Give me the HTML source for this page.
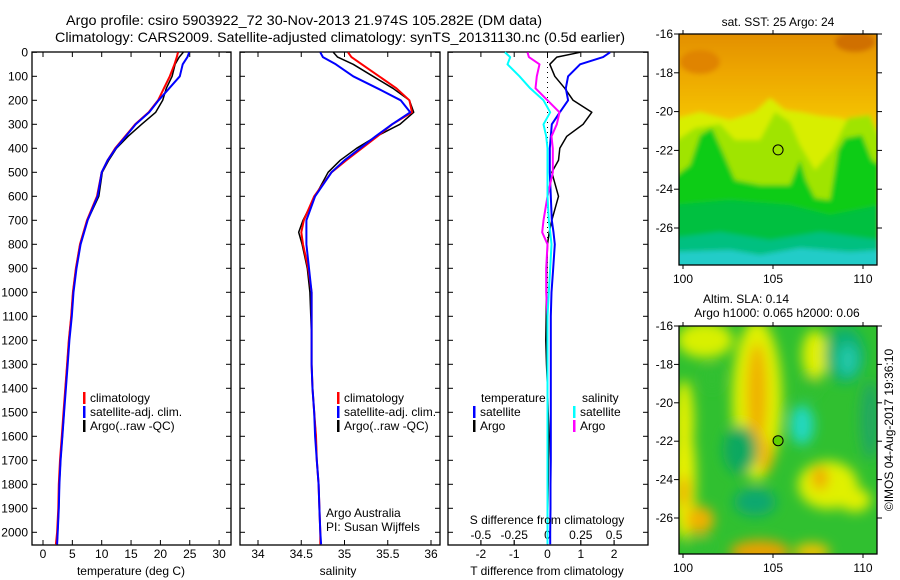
<!DOCTYPE html>
<html><head><meta charset="utf-8">
<style>
html,body{margin:0;padding:0;background:#fff;}
svg{display:block;font-family:"Liberation Sans",Arial,sans-serif;}
text{font-size:12px;fill:#000;}
</style></head>
<body>
<svg id="chart" width="900" height="580" viewBox="0 0 900 580">
<defs>
<filter id="blur1" x="-5%" y="-5%" width="110%" height="110%"><feGaussianBlur stdDeviation="2.5"/></filter>
<filter id="blur2" x="-20%" y="-20%" width="140%" height="140%"><feGaussianBlur stdDeviation="6"/></filter>
<clipPath id="clipM1"><rect x="679" y="34" width="198" height="231"/></clipPath>
<clipPath id="clipM2"><rect x="679" y="326" width="198" height="228"/></clipPath>
<linearGradient id="sstGrad" x1="0" y1="0" x2="0" y2="1">
<stop offset="0" stop-color="#e08a00"/><stop offset="0.2" stop-color="#eea800"/><stop offset="0.38" stop-color="#f4c400"/><stop offset="0.5" stop-color="#e8e000"/><stop offset="1" stop-color="#e8e000"/>
</linearGradient>
</defs>
<text x="304" y="25" text-anchor="middle" textLength="476" lengthAdjust="spacingAndGlyphs" style="font-size:14px">Argo profile: csiro 5903922_72 30-Nov-2013 21.974S 105.282E (DM data)</text>
<text x="340" y="42" text-anchor="middle" textLength="570" lengthAdjust="spacingAndGlyphs" style="font-size:14px">Climatology: CARS2009. Satellite-adjusted climatology: synTS_20131130.nc (0.5d earlier)</text>
<g id="panels"></g>
<g id="maps"></g>
</svg>
<script>
// depth levels (m) shared by profiles
const depths = [0,20,50,100,150,200,250,300,350,400,450,500,600,700,750,800,900,1000,1100,1200,1300,1400,1500,1600,1700,1800,1900,2000,2050];
// temperature (deg C)
const tempClim = [23.0,22.8,22.4,21.6,20.6,19.6,18.0,15.7,14.0,12.3,11.0,10.0,9.2,7.5,6.9,6.3,5.6,5.1,4.8,4.4,4.1,3.8,3.5,3.2,2.9,2.7,2.6,2.4,2.2];
const tempSat  = [24.9,24.6,23.8,23.3,21.5,19.7,18.1,15.8,14.1,12.4,11.0,10.0,9.3,7.6,7.0,6.4,5.7,5.2,4.9,4.5,4.2,3.9,3.6,3.3,3.0,2.8,2.7,2.5,2.4];
const tempArgo = [23.9,23.2,22.5,22.0,21.0,20.4,19.2,16.8,14.5,12.5,11.2,10.1,9.5,7.6,6.9,6.3,5.6,5.1,4.8,4.4,4.1,3.8,3.6,3.3,3.0,2.8,2.7,2.5,2.4];
// salinity (psu)
const salClim = [35.04,35.08,35.2,35.4,35.6,35.75,35.78,35.55,35.38,35.2,35.02,34.85,34.65,34.53,34.5,34.52,34.58,34.62,34.62,34.62,34.62,34.63,34.65,34.67,34.68,34.7,34.71,34.72,34.72];
const salSat  = [34.72,34.75,34.9,35.1,35.38,35.65,35.76,35.55,35.36,35.18,35.0,34.85,34.66,34.56,34.56,34.56,34.59,34.62,34.62,34.62,34.62,34.63,34.65,34.66,34.68,34.7,34.71,34.72,34.73];
const salArgo = [34.87,34.92,35.1,35.33,35.56,35.75,35.8,35.64,35.37,35.14,34.95,34.81,34.66,34.52,34.47,34.51,34.57,34.6,34.61,34.62,34.62,34.63,34.65,34.67,34.68,34.7,34.71,34.72,34.72];
// differences from climatology
const dTSat  = [1.88,1.67,0.98,0.62,0.55,0.62,0.37,0.13,0.1,0.07,0.07,0.07,0.1,0.13,0.18,0.22,0.17,0.12,0.1,0.1,0.1,0.1,0.1,0.1,0.1,0.09,0.09,0.08,0.08];
const dTArgo = [0.98,0.28,0.07,0.22,0.52,0.77,1.33,1.07,0.58,0.37,0.33,0.13,0.33,0.13,0.05,0.0,-0.02,-0.03,-0.04,-0.05,-0.03,0.0,0.02,0.05,0.03,0.02,0.01,0.0,0.0];
const dSSat  = [-0.32,-0.28,-0.3,-0.21,-0.13,-0.03,0.02,-0.03,-0.01,0.0,0.0,0.0,0.0,0.01,0.02,0.03,0.02,0.01,0.0,0.0,0.0,0.0,0.0,0.0,0.0,0.0,0.0,0.0,0.0];
const dSArgo = [-0.15,-0.14,-0.06,-0.08,-0.09,0.0,0.09,0.07,0.03,0.04,0.04,0.04,0.0,-0.03,-0.04,0.0,-0.01,-0.01,0.0,0.0,0.0,0.0,0.0,0.0,0.0,0.0,0.0,0.0,0.0];
// tick labels
const depthTicks = [0,100,200,300,400,500,600,700,800,900,1000,1100,1200,1300,1400,1500,1600,1700,1800,1900,2000];
const tempTicks = [0,5,10,15,20,25,30];
const salTicks = [34,34.5,35,35.5,36];
const salTickLabels = ["34","34.5","35","35.5","36"];
const dTTicks = [-2,-1,0,1,2];
const dSTicks = [-0.5,-0.25,0,0.25,0.5];
const dSTickLabels = ["-0.5","-0.25","0","0.25","0.5"];
const latTicks = [-16,-18,-20,-22,-24,-26];
const lonTicks = [100,105,110];
const argoLon = 105.282, argoLat = -21.974;

const NS='http://www.w3.org/2000/svg';
const svg=document.getElementById('chart');
const G=document.getElementById('panels');
const M=document.getElementById('maps');
function el(tag,attrs,parent){const e=document.createElementNS(NS,tag);for(const k in attrs)e.setAttribute(k,attrs[k]);(parent||G).appendChild(e);return e;}
function txt(x,y,s,anchor,parent,size){const t=el('text',{x:x,y:y,'text-anchor':anchor||'start'},parent);if(size)t.style.fontSize=size+'px';t.textContent=s;return t;}

// axes
const TOP=52, BOT=545;
const yD=d=>52.3+d*0.24;
const xT=t=>43+t*5.87;
const xS=s=>258+(s-34)*86.5;
const xdT=t=>547.5+t*33.3;
const xdS=s=>547.5+s*133.2;

function panelBox(x0,x1,name){
  const r=el('rect',{x:x0,y:TOP,width:x1-x0,height:BOT-TOP,fill:'none',stroke:'#000','stroke-width':1.3});
  
  
  depthTicks.forEach(d=>{
    el('line',{x1:x0,x2:x0+5,y1:yD(d),y2:yD(d),stroke:'#000'});
    el('line',{x1:x1-5,x2:x1,y1:yD(d),y2:yD(d),stroke:'#000'});
  });
}
function xTicks(vals,labels,f,yl){
  vals.forEach((v,i)=>{
    el('line',{x1:f(v),x2:f(v),y1:BOT,y2:BOT-5,stroke:'#000'});
    el('line',{x1:f(v),x2:f(v),y1:TOP,y2:TOP+5,stroke:'#000'});
    const t=txt(f(v),yl,labels[i],'middle');
    
    
  });
}
function profile(vals,f,color,w,name){
  const pts=vals.map((v,i)=>f(v).toFixed(1)+','+yD(depths[i]).toFixed(1)).join(' ');
  const p=el('polyline',{points:pts,fill:'none',stroke:color,'stroke-width':w,'stroke-linejoin':'round'});
  
  
}
function legend(x,y,color,label,parentName){
  el('rect',{x:x-1,y:y-10,width:2.5,height:12,fill:color});
  const t=txt(x+6,y,label);
  
  
}

// panel 1 temperature
panelBox(32,231,'temperature-panel');
depthTicks.forEach(d=>{const t=txt(28,yD(d)+4,String(d),'end');
  
  });
xTicks(tempTicks,tempTicks.map(String),xT,558);
profile(tempArgo,xT,'#000',1.5,'temp-argo-line');
profile(tempClim,xT,'#f00',2,'temp-climatology-line');
profile(tempSat,xT,'#00f',2,'temp-satellite-line');
legend(84,402,'#f00','climatology','legend-climatology');
legend(84,416,'#00f','satellite-adj. clim.','legend-satellite');
legend(84,430,'#000','Argo(..raw -QC)','legend-argo');
let t=txt(131,575,'temperature (deg C)','middle');



// panel 2 salinity
panelBox(240,440,'salinity-panel');
xTicks(salTicks,salTickLabels,xS,558);
profile(salArgo,xS,'#000',1.5,'sal-argo-line');
profile(salClim,xS,'#f00',2,'sal-climatology-line');
profile(salSat,xS,'#00f',2,'sal-satellite-line');
legend(338,402,'#f00','climatology','legend-climatology');
legend(338,416,'#00f','satellite-adj. clim.','legend-satellite');
legend(338,430,'#000','Argo(..raw -QC)','legend-argo');
t=txt(326,517,'Argo Australia');


t=txt(326,531,'PI: Susan Wijffels');


t=txt(338,575,'salinity','middle');



// panel 3 differences
panelBox(448,648,'difference-panel');
xTicks(dTTicks,dTTicks.map(String),xdT,558);
dSTicks.forEach((v,i)=>{
  el('line',{x1:xdS(v),x2:xdS(v),y1:BOT,y2:BOT-5,stroke:'#000'});
  const tt=txt(xdS(v),539,dSTickLabels[i],'middle');
  
  
});
el('line',{x1:xdT(0),x2:xdT(0),y1:TOP,y2:BOT,stroke:'#000','stroke-dasharray':'1,4'});
profile(dTArgo,xdT,'#000',1.5,'dT-argo-line');
profile(dTSat,xdT,'#00f',2,'dT-satellite-line');
profile(dSArgo,xdS,'#f0f',2,'dS-argo-line');
profile(dSSat,xdS,'#0ff',2,'dS-satellite-line');
t=txt(481,402,'temperature');


legend(474,416,'#00f','satellite','legend-t-satellite');
legend(474,430,'#000','Argo','legend-t-argo');
t=txt(582,402,'salinity');


legend(574,416,'#0ff','satellite','legend-s-satellite');
legend(574,430,'#f0f','Argo','legend-s-argo');
t=txt(547,524,'S difference from climatology','middle');


t=txt(547,575,'T difference from climatology','middle');



// maps
const mx=lon=>683+(lon-100)*18;
const my1=lat=>34+(-16-lat)*19.4;
const my2=lat=>326+(-16-lat)*19.2;
function mapFrame(y0,y1,fy,xlabY,name){
  const r=el('rect',{x:679,y:y0,width:198,height:y1-y0,fill:'none',stroke:'#000','stroke-width':1.3},M);
  
  
  latTicks.forEach(l=>{
    el('line',{x1:674,x2:679,y1:fy(l),y2:fy(l),stroke:'#000'},M);
    el('line',{x1:877,x2:882,y1:fy(l),y2:fy(l),stroke:'#000'},M);
    const tt=txt(673,fy(l)+4,String(l),'end',M);
    
    
  });
  lonTicks.forEach(l=>{
    el('line',{x1:mx(l),x2:mx(l),y1:y0-4,y2:y0,stroke:'#000'},M);
    el('line',{x1:mx(l),x2:mx(l),y1:y1,y2:y1+4,stroke:'#000'},M);
    const tt=txt(mx(l),xlabY,String(l),'middle',M);
    
    
  });
}
// SST map
const g1=el('g',{'clip-path':'url(#clipM1)'},M);


const g1b=el('g',{filter:'url(#blur1)'},g1);
el('rect',{x:670,y:25,width:215,height:250,fill:'url(#sstGrad)'},g1b);
el('polygon',{points:'670,120 700,112 730,120 755,112 770,98 785,110 800,112 820,116 840,118 860,125 880,130 880,280 670,280',fill:'#d8ee00'},g1b);
el('polygon',{points:'670,145 695,128 720,124 735,140 760,140 775,112 790,122 800,145 815,170 832,150 848,118 870,115 880,140 880,280 670,280',fill:'#a0e400'},g1b);
el('polygon',{points:'670,180 690,165 700,135 712,128 722,150 735,180 760,185 790,185 800,160 806,180 815,198 830,200 838,150 845,138 862,135 872,160 880,165 880,280 670,280',fill:'#10cc18'},g1b);
el('polygon',{points:'670,205 730,200 790,205 830,215 880,205 880,280 670,280',fill:'#06c040'},g1b);
el('polygon',{points:'670,238 720,232 770,240 820,232 880,240 880,280 670,280',fill:'#00c080'},g1b);
el('polygon',{points:'670,252 730,250 760,255 800,248 850,252 880,250 880,280 670,280',fill:'#20ccc8'},g1b);
el('ellipse',{cx:855,cy:42,rx:20,ry:10,fill:'#d07000'},g1b);
el('ellipse',{cx:700,cy:62,rx:20,ry:12,fill:'#e08400'},g1b);
mapFrame(34,265,my1,283,'sst-map-frame');
let c=el('circle',{cx:mx(argoLon),cy:my1(argoLat),r:5,fill:'none',stroke:'#000'},M);


t=txt(778,26,'sat. SST: 25 Argo: 24','middle',M);



// SLA map
const g2=el('g',{'clip-path':'url(#clipM2)'},M);


el('rect',{x:670,y:320,width:215,height:240,fill:'#30c030'},g2);
const g2b=el('g',{filter:'url(#blur2)'},g2);
const blobs=[
 [705,340,28,18,'#d8f000'],[684,420,10,40,'#e0f000'],[684,480,12,60,'#e8f000'],[684,492,6,16,'#f0b000'],[700,520,14,14,'#f0b000'],
 [757,400,25,80,'#e0f000'],[757,395,10,52,'#f0b000'],[765,455,8,18,'#f0b800'],
 [815,355,13,25,'#e0f000'],[828,485,30,24,'#e0f000'],[820,478,8,12,'#f0a800'],
 [855,500,16,12,'#e0f000'],[760,552,30,12,'#e8a000'],[812,552,18,9,'#f0c000'],
 [740,450,17,24,'#10a860'],[755,502,21,14,'#10a870'],[802,425,12,20,'#20d8c0'],
 [845,355,20,28,'#10b070'],[848,360,10,16,'#20c8a8'],[870,420,10,40,'#20a860'],
 [712,378,9,12,'#30c030'],[811,385,8,10,'#30c030'],[700,545,12,8,'#30c030']];
blobs.forEach(b=>el('ellipse',{cx:b[0],cy:b[1],rx:b[2],ry:b[3],fill:b[4]},g2b));
mapFrame(326,554,my2,572,'sla-map-frame');
c=el('circle',{cx:mx(argoLon),cy:my2(argoLat),r:5,fill:'#60d000',stroke:'#000'},M);


t=txt(746,303,'Altim. SLA: 0.14','middle',M);


t=txt(777,317,'Argo h1000: 0.065 h2000: 0.06','middle',M);


t=txt(0,0,'©IMOS 04-Aug-2017 19:36:10','middle',M);
t.setAttribute('transform','translate(893,430) rotate(-90)');


</script>
</body></html>
